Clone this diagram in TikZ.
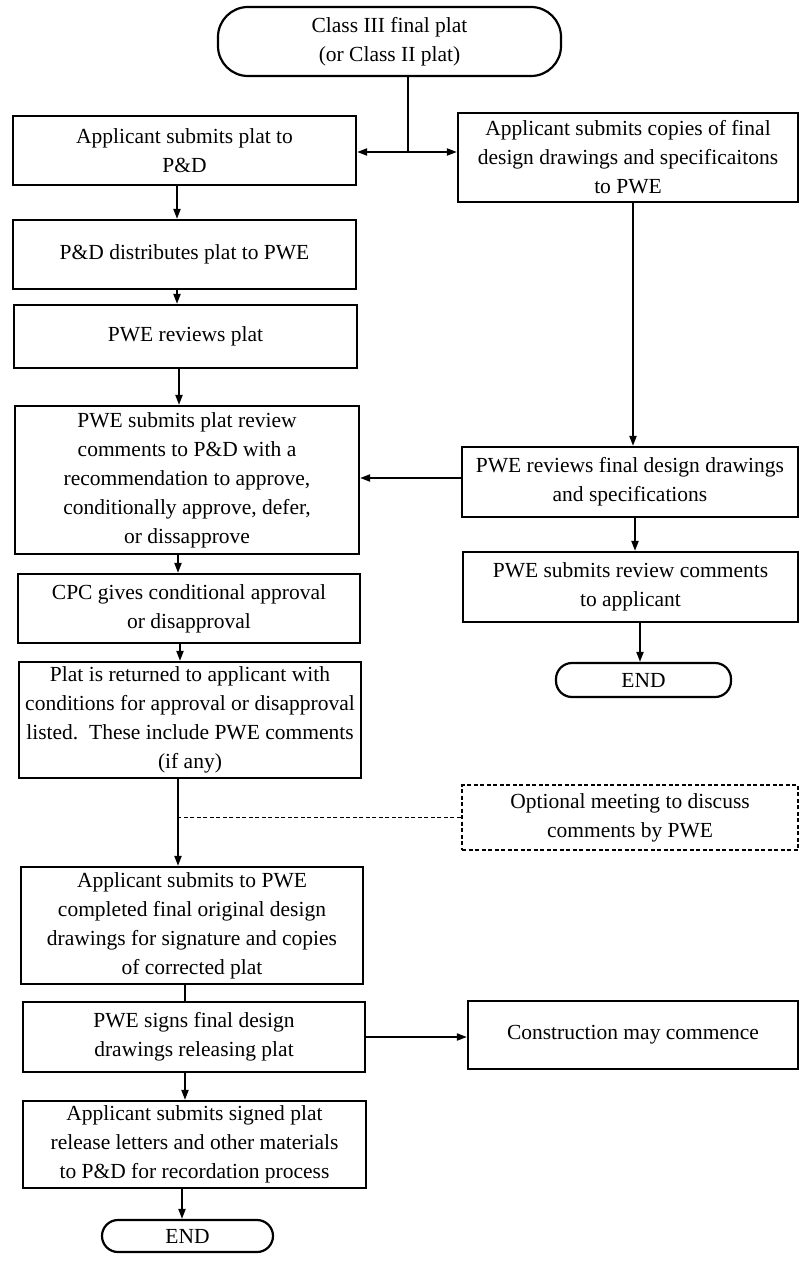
\documentclass[tikz,border=0pt]{standalone}
\usepackage{fontspec}
\setmainfont{Liberation Serif}
\usetikzlibrary{arrows.meta}
\newcommand\diagfont{\fontsize{21.5pt}{29pt}\selectfont}
\begin{document}
\begin{tikzpicture}[x=1pt,y=-1pt,
  box/.style={draw,line width=2.2pt,inner sep=0pt,align=center,font=\diagfont},
  term/.style={box,rounded corners=16pt},
  dbox/.style={box,dash pattern=on 4pt off 2.5pt},
  conn/.style={line width=1.9pt},
  arr/.style={conn,-{Triangle[length=10pt,width=7pt]}},
  darr/.style={conn,{Triangle[length=10pt,width=7pt]}-{Triangle[length=10pt,width=7pt]}},
  dline/.style={line width=1.9pt,dash pattern=on 4pt off 2.5pt}]
\useasboundingbox (0,0) rectangle (800,1268);

% left column
\node[term,minimum width=343pt,minimum height=69pt,rounded corners=30pt] (start) at (389.5,41.5) {Class III final plat\\(or Class II plat)};
\node[box,minimum width=343pt,minimum height=69pt] (A1) at (184.5,150.5) {Applicant submits plat to\\P\&D};
\node[box,minimum width=343pt,minimum height=69pt] (A2) at (184.5,254.5) {P\&D distributes plat to PWE};
\node[box,minimum width=343pt,minimum height=63pt] (A3) at (185.5,336.5) {PWE reviews plat};
\node[box,minimum width=344pt,minimum height=148pt] (A4) at (187,480) {PWE submits plat review\\comments to P\&D with a\\recommendation to approve,\\conditionally approve, defer,\\or dissapprove};
\node[box,minimum width=342pt,minimum height=69pt] (A5) at (189,608.5) {CPC gives conditional approval\\or disapproval};
\node[box,minimum width=342pt,minimum height=116pt] (A6) at (190,720) {Plat is returned to applicant with\\conditions for approval or disapproval\\listed.\ \ These include PWE comments\\(if any)};
\node[box,minimum width=342pt,minimum height=117pt] (A7) at (192,925.5) {Applicant submits to PWE\\completed final original design\\drawings for signature and copies\\of corrected plat};
\node[box,minimum width=342pt,minimum height=70pt] (A8) at (194,1037) {PWE signs final design\\drawings releasing plat};
\node[box,minimum width=343pt,minimum height=87pt] (A9) at (194.5,1144.5) {Applicant submits signed plat\\release letters and other materials\\to P\&D for recordation process};
\node[term,minimum width=171pt,minimum height=32pt] (E2) at (187.5,1236) {END};

% right column
\node[box,minimum width=340pt,minimum height=89pt] (R1) at (628,157.5) {Applicant submits copies of final\\design drawings and specificaitons\\to PWE};
\node[box,minimum width=336pt,minimum height=70pt] (R2) at (630,482) {PWE reviews final design drawings\\and specifications};
\node[box,minimum width=335pt,minimum height=70pt] (R3) at (630.5,587) {PWE submits review comments\\to applicant};
\node[term,minimum width=175pt,minimum height=34pt] (E1) at (643.5,680) {END};
\node[dbox,minimum width=336pt,minimum height=65pt] (D) at (630,817.5) {Optional meeting to discuss\\comments by PWE};
\node[box,minimum width=330pt,minimum height=68pt] (C) at (633,1035) {Construction may commence};

% connectors
\coordinate (j) at (408,152);
\coordinate (col) at (178,0);
\draw[conn] (j |- start.south) -- (j);
\draw[darr] (j -| A1.east) -- (j -| R1.west);
\draw[arr] ([xshift=-7.5pt]A1.south) -- ([xshift=-7.5pt]A1.south |- A2.north);
\draw[arr] ([xshift=-7.5pt]A2.south) -- ([xshift=-7.5pt]A2.south |- A3.north);
\draw[arr] ([xshift=-6.5pt]A3.south) -- ([xshift=-6.5pt]A3.south |- A4.north);
\draw[arr] ([xshift=-9pt]A4.south) -- ([xshift=-9pt]A4.south |- A5.north);
\draw[arr] ([xshift=-9pt]A5.south) -- ([xshift=-9pt]A5.south |- A6.north);
\draw[arr] (col |- A6.south) -- (col |- A7.north);
\draw[dline] (D.west) -- (D.west -| col);
\draw[conn] ([xshift=-7pt]A7.south) -- ([xshift=-7pt]A7.south |- A8.north);
\draw[arr] ([xshift=-9pt]A8.south) -- ([xshift=-9pt]A8.south |- A9.north);
\draw[arr] ([xshift=-12.5pt]A9.south) -- ([xshift=-12.5pt]A9.south |- E2.north);
\draw[arr] ([xshift=5pt]R1.south) -- ([xshift=5pt]R1.south |- R2.north);
\draw[arr] (R2.west |- 0,478) -- (A4.east |- 0,478);
\draw[arr] ([xshift=5pt]R2.south) -- ([xshift=5pt]R2.south |- R3.north);
\draw[arr] ([xshift=9.5pt]R3.south) -- ([xshift=9.5pt]R3.south |- E1.north);
\draw[arr] (A8.east) -- (A8.east -| C.west);
\end{tikzpicture}
\end{document}
